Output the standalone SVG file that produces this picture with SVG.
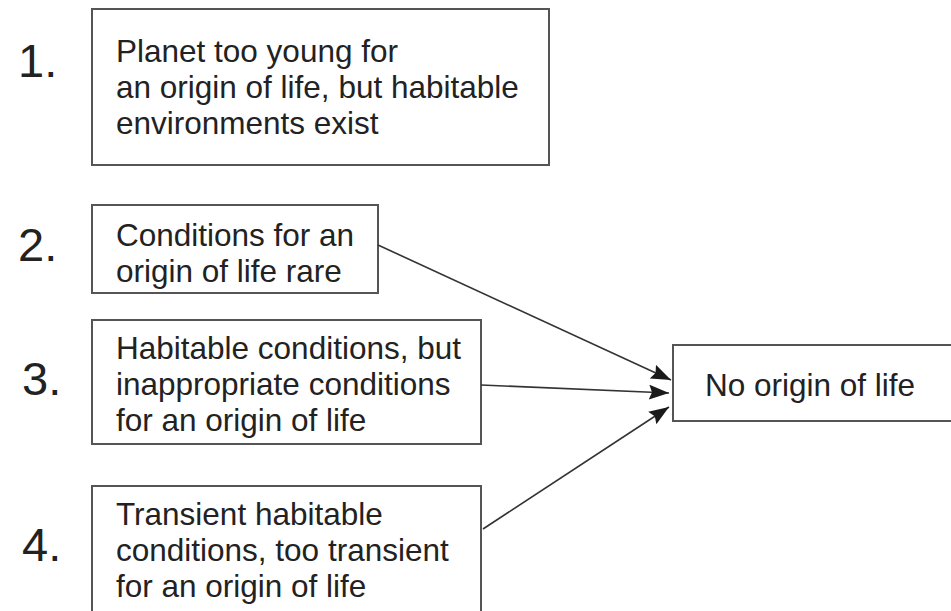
<svg xmlns="http://www.w3.org/2000/svg" width="951" height="611" viewBox="0 0 951 611">
<defs>
<style>
.box{fill:#fff;stroke:#555;stroke-width:2}
.t{font-family:"Liberation Sans",Arial,sans-serif;font-size:31.5px;fill:#222}
.n{font-family:"Liberation Sans",Arial,sans-serif;font-size:47px;fill:#222}
.c{stroke:#333;stroke-width:1.6;fill:none}
</style>
<marker id="ah" viewBox="0 0 10 10" refX="10" refY="5" markerWidth="20" markerHeight="15" markerUnits="userSpaceOnUse" orient="auto" preserveAspectRatio="none">
<path d="M0,0 L10,5 L0,10 L1.5,5 z" fill="#1a1a1a"/>
</marker>
</defs>
<rect width="951" height="611" fill="#fff"/>
<g id="node1">
<text class="n" x="18" y="77">1.</text>
<rect class="box" x="92" y="9" width="457" height="156"/>
<text class="t" x="116" y="62">Planet too young for</text>
<text class="t" x="116" y="98">an origin of life, but habitable</text>
<text class="t" x="116" y="134">environments exist</text>
</g>
<g id="node2">
<text class="n" x="18" y="261">2.</text>
<rect class="box" x="92" y="205" width="286" height="88"/>
<text class="t" x="116" y="246">Conditions for an</text>
<text class="t" x="116" y="282">origin of life rare</text>
</g>
<g id="node3">
<text class="n" x="22" y="395">3.</text>
<rect class="box" x="92" y="320" width="389" height="124"/>
<text class="t" x="116" y="359">Habitable conditions, but</text>
<text class="t" x="116" y="395">inappropriate conditions</text>
<text class="t" x="116" y="431">for an origin of life</text>
</g>
<g id="node4">
<text class="n" x="22" y="561">4.</text>
<rect class="box" x="92" y="486" width="389" height="130"/>
<text class="t" x="116" y="525">Transient habitable</text>
<text class="t" x="116" y="561">conditions, too transient</text>
<text class="t" x="116" y="597">for an origin of life</text>
</g>
<g id="node5">
<rect class="box" x="673" y="345" width="290" height="76"/>
<text class="t" x="705" y="396">No origin of life</text>
</g>
<g id="connectors">
<line class="c" x1="378" y1="245" x2="671" y2="380" marker-end="url(#ah)"/>
<line class="c" x1="481" y1="385" x2="669" y2="393" marker-end="url(#ah)"/>
<line class="c" x1="483" y1="529" x2="669" y2="407" marker-end="url(#ah)"/>
</g>
</svg>
